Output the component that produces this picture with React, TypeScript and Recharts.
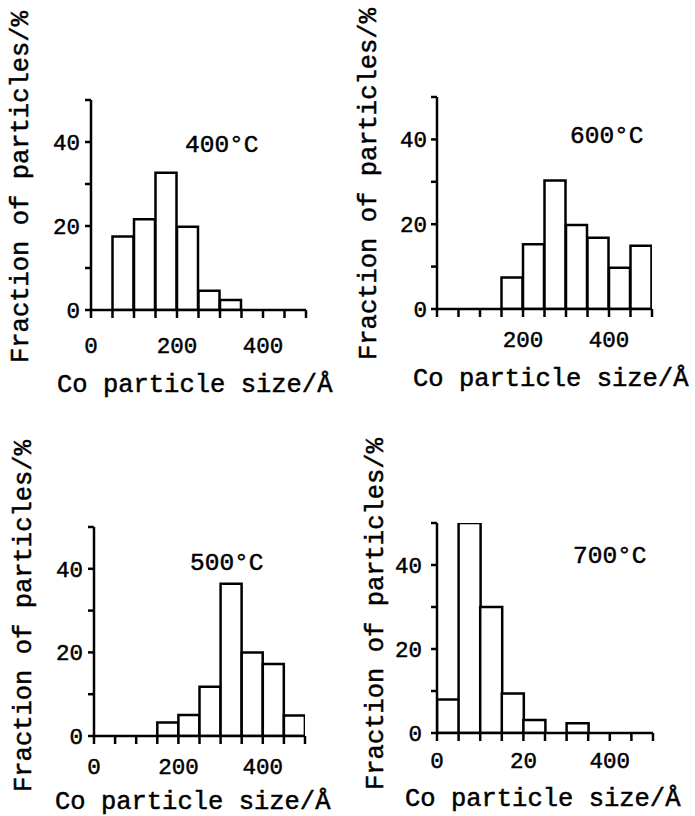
import { Bar, BarChart, XAxis, YAxis } from "recharts";

const FONT = "'Liberation Mono', 'Courier New', monospace";

// histogram bins, 50 Å wide, keyed by their centres
const binMids = [25, 75, 125, 175, 225, 275, 325, 375, 425, 475];
const binEdges = [0, 50, 100, 150, 200, 250, 300, 350, 400, 450, 500];
const yTicks = [0, 10, 20, 30, 40, 50];
const yTickText = ["0", "", "20", "", "40", ""];

// fraction of particles (%) per bin
const frac400 = [null, 17.5, 21.6, 32.7, 19.8, 4.6, 2.4, null, null, null];
const frac600 = [null, null, null, 7.4, 15.3, 30.3, 19.8, 16.8, 9.7, 14.9];
const frac500 = [null, null, null, 3.2, 5.0, 11.8, 36.4, 20.0, 17.2, 4.9];
const frac700 = [8.0, 50, 30.0, 9.4, 3.1, null, 2.3, null, null, null];

// labels under the bin edges (the 700 °C panel really reads "20")
const xTickText400 = ["0", "", "", "", "200", "", "", "", "400", "", ""];
const xTickText600 = ["", "", "", "", "200", "", "", "", "400", "", ""];
const xTickText500 = ["0", "", "", "", "200", "", "", "", "400", "", ""];
const xTickText700 = ["0", "", "", "", "20", "", "", "", "400", "", ""];

const xTitle = "Co particle size/Å";
const yTitle = "Fraction of particles/%";

const X_AXIS_H = 40;
const Y_AXIS_W = 40;

type Rect = [number, number, number, number];

interface Layout {
	box: Rect; // page coords: left, top, width, height
	plot: Rect;
	xGap: number;
	yGap: number;
	temp: [number, number];
	xTitleAt: [number, number];
	yTitleAt: [number, number];
}

const layouts: Layout[] = [
	{
		box: [0, 0, 345, 405],
		plot: [91, 100, 215, 210],
		xGap: 19,
		yGap: 5,
		temp: [185, 152],
		xTitleAt: [57, 392],
		yTitleAt: [28, 363],
	},
	{
		box: [345, 0, 350, 405],
		plot: [437, 97, 215, 212],
		xGap: 14,
		yGap: 4,
		temp: [570, 143],
		xTitleAt: [413, 386],
		yTitleAt: [376, 360],
	},
	{
		box: [0, 405, 345, 411],
		plot: [94, 527, 211, 209],
		xGap: 14,
		yGap: 5,
		temp: [190, 570],
		xTitleAt: [55, 809],
		yTitleAt: [31, 792],
	},
	{
		box: [345, 405, 350, 411],
		plot: [437, 523, 216, 210],
		xGap: 11,
		yGap: 9,
		temp: [573, 563],
		xTitleAt: [405, 806],
		yTitleAt: [383, 790],
	},
];

interface PanelProps {
	values: (number | null)[];
	xTickText: string[];
	temp: string;
	layout: Layout;
}

function Panel({ values, xTickText, temp, layout }: PanelProps) {
	const [bx, by, bw, bh] = layout.box;
	const [px, py, pw, ph] = layout.plot;
	const data = binMids.map((mid, i) => ({ mid, value: values[i] }));
	// axis widths eat into the margins, so take them back out
	const margin = {
		left: px - bx - Y_AXIS_W,
		top: py - by,
		right: bx + bw - px - pw,
		bottom: by + bh - py - ph - X_AXIS_H,
	};
	const lineStyle = { stroke: "#000", strokeWidth: 2.5 };
	const tickStyle = {
		fill: "#000",
		fontSize: 22.5,
		fontFamily: FONT,
		stroke: "#000",
		strokeWidth: 0.5,
	};
	const textStyle = {
		fill: "#000",
		fontSize: 25.5,
		fontFamily: FONT,
		stroke: "#000",
		strokeWidth: 0.5,
	};

	return (
		<div
			style={{ position: "absolute", left: bx, top: by, width: bw, height: bh }}
		>
			<BarChart
				width={bw}
				height={bh}
				data={data}
				margin={margin}
				barCategoryGap={0}
				barGap={0}
			>
				<XAxis
					dataKey="mid"
					type="number"
					domain={[0, 500]}
					allowDataOverflow
					ticks={binEdges}
					interval={0}
					height={X_AXIS_H}
					stroke="#000"
					strokeWidth={2.5}
					axisLine={lineStyle}
					tickLine={lineStyle}
					tickSize={8}
					tickMargin={layout.xGap}
					tick={tickStyle}
					tickFormatter={(v: number) => xTickText[binEdges.indexOf(v)] ?? ""}
				/>
				<YAxis
					type="number"
					domain={[0, 50]}
					allowDataOverflow
					ticks={yTicks}
					interval={0}
					width={Y_AXIS_W}
					stroke="#000"
					strokeWidth={2.5}
					axisLine={lineStyle}
					tickLine={lineStyle}
					tickSize={6}
					tickMargin={layout.yGap}
					tick={tickStyle}
					tickFormatter={(v: number) => yTickText[yTicks.indexOf(v)] ?? ""}
				/>
				<Bar
					dataKey="value"
					fill="#fff"
					stroke="#000"
					strokeWidth={2.5}
					isAnimationActive={false}
				/>
			</BarChart>
			<svg
				width={bw}
				height={bh}
				style={{ position: "absolute", left: 0, top: 0, pointerEvents: "none" }}
			>
				<text x={layout.temp[0] - bx} y={layout.temp[1] - by} {...textStyle} fontSize={24.5}>
					{temp}
				</text>
				<text x={layout.xTitleAt[0] - bx} y={layout.xTitleAt[1] - by} {...textStyle}>
					{xTitle}
				</text>
				<text
					transform={`translate(${layout.yTitleAt[0] - bx},${layout.yTitleAt[1] - by}) rotate(-90)`}
					{...textStyle}
				>
					{yTitle}
				</text>
			</svg>
		</div>
	);
}

export default function App() {
	return (
		<div
			style={{
				position: "absolute",
				left: 0,
				top: 0,
				width: 695,
				height: 816,
				background: "#fff",
			}}
		>
			<Panel values={frac400} xTickText={xTickText400} temp="400°C" layout={layouts[0]} />
			<Panel values={frac600} xTickText={xTickText600} temp="600°C" layout={layouts[1]} />
			<Panel values={frac500} xTickText={xTickText500} temp="500°C" layout={layouts[2]} />
			<Panel values={frac700} xTickText={xTickText700} temp="700°C" layout={layouts[3]} />
		</div>
	);
}
